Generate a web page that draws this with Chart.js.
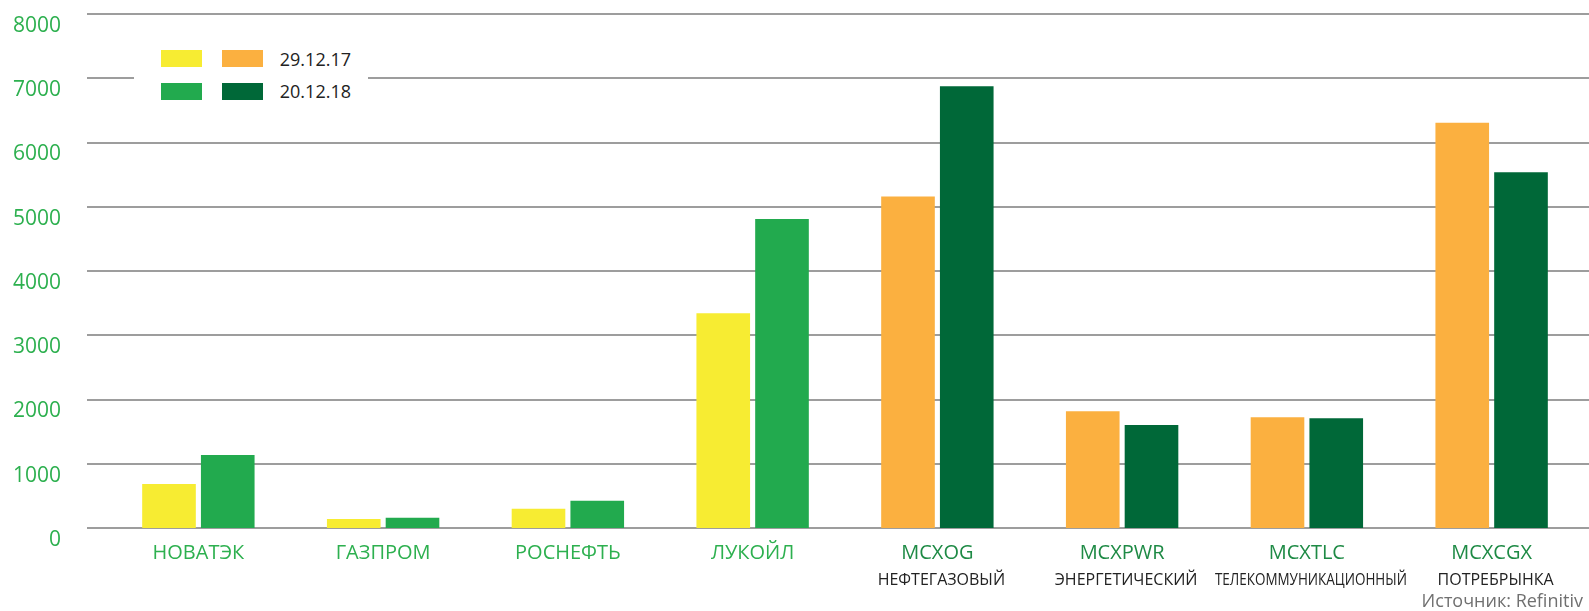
<!DOCTYPE html>
<html>
<head>
<meta charset="utf-8">
<script src="https://cdn.jsdelivr.net/npm/chart.js@4"></script>
<style>
  body { margin: 0; background: #fff; }
  #wrap { position: relative; width: 1589px; height: 611px; }
  #legend { position: absolute; left: 134px; top: 40px; width: 234px; height: 68px; background: #fff;
            font-family: "Open Sans", sans-serif; font-size: 18px; color: #222; }
  .sw { position: absolute; width: 41px; height: 17px; }
  .lt { position: absolute; right: 17px; line-height: 20px; }
  #source { position: absolute; right: 6px; top: 588px; font-family: "Open Sans", sans-serif;
            font-size: 18px; color: #707070; }
</style>
</head>
<body>
<div id="wrap">
  <canvas id="barChart" width="1589" height="611"></canvas>
  <div id="legend">
    <div class="sw" style="left:27px;top:10px;background:#f7ec32"></div>
    <div class="sw" style="left:88px;top:10px;background:#fbb040"></div>
    <div class="lt" style="top:9px">29.12.17</div>
    <div class="sw" style="left:27px;top:43px;background:#22aa4e"></div>
    <div class="sw" style="left:88px;top:43px;background:#006838"></div>
    <div class="lt" style="top:41px">20.12.18</div>
  </div>
  <div id="source">Источник: Refinitiv</div>
</div>
<script>
// data
const names = ['НОВАТЭК', 'ГАЗПРОМ', 'РОСНЕФТЬ', 'ЛУКОЙЛ', 'MCXOG', 'MCXPWR', 'MCXTLC', 'MCXCGX'];
const subNames = ['', '', '', '', 'НЕФТЕГАЗОВЫЙ', 'ЭНЕРГЕТИЧЕСКИЙ', 'ТЕЛЕКОММУНИКАЦИОННЫЙ', 'ПОТРЕБРЫНКА'];
const isIndex = [false, false, false, false, true, true, true, true];
const values2017 = [685, 140, 300, 3344, 5158, 1816, 1723, 6309];
const values2018 = [1138, 160, 425, 4811, 6877, 1604, 1707, 5536];
const yTicks = [0, 1000, 2000, 3000, 4000, 5000, 6000, 7000, 8000];

const colors2017 = isIndex.map(ix => ix ? '#fbb040' : '#f7ec32');
const colors2018 = isIndex.map(ix => ix ? '#006838' : '#22aa4e');

// grid lines run past the chart area to the left edge of the axis zone
const fullGrid = {
  id: 'fullGrid',
  beforeDatasetsDraw(chart) {
    const ctx = chart.ctx, y = chart.scales.y;
    ctx.save();
    ctx.strokeStyle = '#9d9d9d';
    ctx.lineWidth = 2;
    yTicks.forEach(v => {
      const py = Math.round(y.getPixelForValue(v));
      ctx.beginPath();
      ctx.moveTo(87, py);
      ctx.lineTo(chart.width, py);
      ctx.stroke();
    });
    ctx.restore();
  }
};

// second line of x labels (index descriptions)
const subLabels = {
  id: 'subLabels',
  afterDraw(chart) {
    const ctx = chart.ctx, x = chart.scales.x;
    ctx.save();
    ctx.font = '16px "Open Sans", sans-serif';
    ctx.fillStyle = '#222';
    ctx.textAlign = 'center';
    ctx.textBaseline = 'middle';
    subNames.forEach((s, i) => {
      if (s) ctx.fillText(s, x.getPixelForTick(i) + 4, 580, 192);
    });
    ctx.restore();
  }
};

const ctx = document.getElementById('barChart').getContext('2d');
const barChart = new Chart(ctx, {
  type: 'bar',
  data: {
    labels: names,
    datasets: [{
      label: '29.12.17',
      data: values2017,
      backgroundColor: colors2017
    }, {
      label: '20.12.18',
      data: values2018,
      backgroundColor: colors2018
    }]
  },
  options: {
    responsive: false,
    animation: false,
    layout: { padding: { top: 14, right: 5, left: 0, bottom: 0 } },
    categoryPercentage: 0.636,
    barPercentage: 0.913,
    plugins: {
      legend: { display: false },
      tooltip: { enabled: false }
    },
    scales: {
      x: {
        grid: { display: false, drawTicks: false, tickLength: 0 },
        border: { display: false },
        afterFit: s => { s.height = 83; s.paddingLeft = 0; s.paddingRight = 0; },
        ticks: {
          padding: 13,
          maxRotation: 0,
          autoSkip: false,
          font: { family: 'Open Sans', size: 20 },
          color: c => isIndex[c.index] ? '#1e8a45' : '#2db04f'
        }
      },
      y: {
        min: 0,
        max: 8000,
        grid: { display: false, drawTicks: false, tickLength: 0 },
        border: { display: false },
        afterFit: s => { s.width = 106; s.paddingTop = 0; s.paddingBottom = 0; },
        ticks: {
          stepSize: 1000,
          padding: 45,
          labelOffset: 12,
          font: { family: 'Open Sans', size: 21 },
          color: '#2db04f',
          callback: v => String(v)
        }
      }
    }
  },
  plugins: [fullGrid, subLabels]
});
</script>
</body>
</html>
